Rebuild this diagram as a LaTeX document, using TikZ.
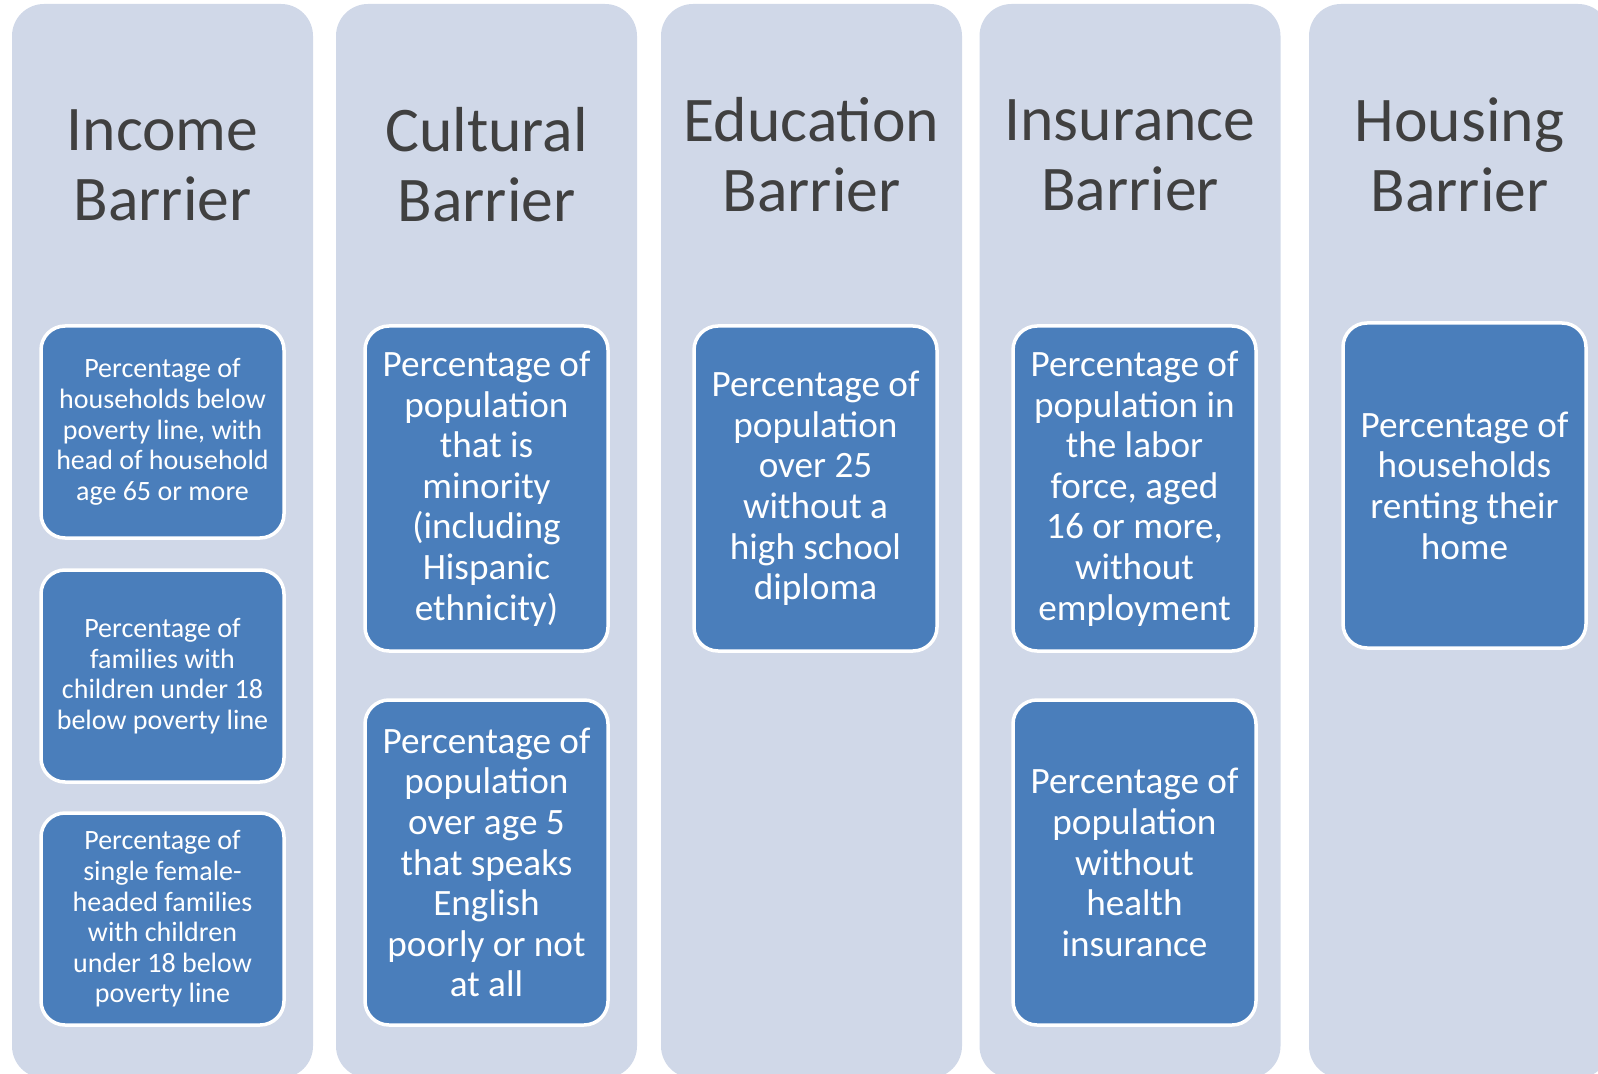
\documentclass[tikz,border=0pt]{standalone}
\usepackage{fontspec}
\setmainfont{Carlito}
\definecolor{lanefill}{HTML}{D0D8E8}
\definecolor{cardblue}{HTML}{4A7EBB}
\definecolor{headgray}{HTML}{404040}

\begin{document}
\begin{tikzpicture}[x=0.5pt,y=-0.5pt,
  lane/.style={fill=lanefill, draw=none, rounded corners=16pt,
    minimum width=150.5pt, minimum height=537pt, inner sep=0pt},
  heading/.style={text=headgray, align=center, inner sep=0pt,
    font=\fontsize{31.8}{35}\selectfont},
  card/.style={fill=cardblue, draw=white, line width=1.75pt,
    rounded corners=12pt, text=white, align=center,
    minimum width=121.5pt, inner sep=0pt},
  shortcard/.style={card, minimum height=106pt,
    font=\fontsize{14}{15.3}\selectfont},
  tallcard/.style={card, minimum height=162.5pt,
    font=\fontsize{18.6}{20.3}\selectfont}]

\useasboundingbox (0,0) rectangle (1598,1074);
\clip (0,0) rectangle (1598,1074);

% background lanes
\node[lane] (lane1) at (162.5,541) {};
\node[lane] (lane2) at (486.5,541) {};
\node[lane] (lane3) at (811.5,541) {};
\node[lane] (lane4) at (1130,541) {};
\node[lane] (lane5) at (1459.5,541) {};

% lane headings
\node[heading] (h1) at (162.5,165) {Income\\Barrier};
\node[heading] (h2) at (486.5,165) {Cultural\\Barrier};
\node[heading] (h3) at (811.5,155) {Education\\Barrier};
\node[heading] (h4) at (1130,155) {Insurance\\Barrier};
\node[heading] (h5) at (1459.5,155) {Housing\\Barrier};

% income indicators
\node[shortcard] (i1) at (162.5,432) {Percentage of\\households below\\poverty line, with\\head of household\\age 65 or more};
\node[shortcard] (i2) at (162.5,676) {Percentage of\\families with\\children under 18\\below poverty line};
\node[shortcard] (i3) at (162.5,919) {Percentage of\\single female-\\headed families\\with children\\under 18 below\\poverty line};

% cultural indicators
\node[tallcard] (c1) at (486.5,488.5) {Percentage of\\population\\that is\\minority\\(including\\Hispanic\\ethnicity)};
\node[tallcard] (c2) at (486.5,862.5) {Percentage of\\population\\over age 5\\that speaks\\English\\poorly or not\\at all};

% education indicator
\node[tallcard] (e1) at (815.5,488.5) {Percentage of\\population\\over 25\\without a\\high school\\diploma};

% insurance indicators
\node[tallcard] (n1) at (1134.5,488.5) {Percentage of\\population in\\the labor\\force, aged\\16 or more,\\without\\employment};
\node[tallcard] (n2) at (1134.5,862.5) {Percentage of\\population\\without\\health\\insurance};

% housing indicator
\node[tallcard] (r1) at (1464.5,485.5) {Percentage of\\households\\renting their\\home};

\end{tikzpicture}
\end{document}
